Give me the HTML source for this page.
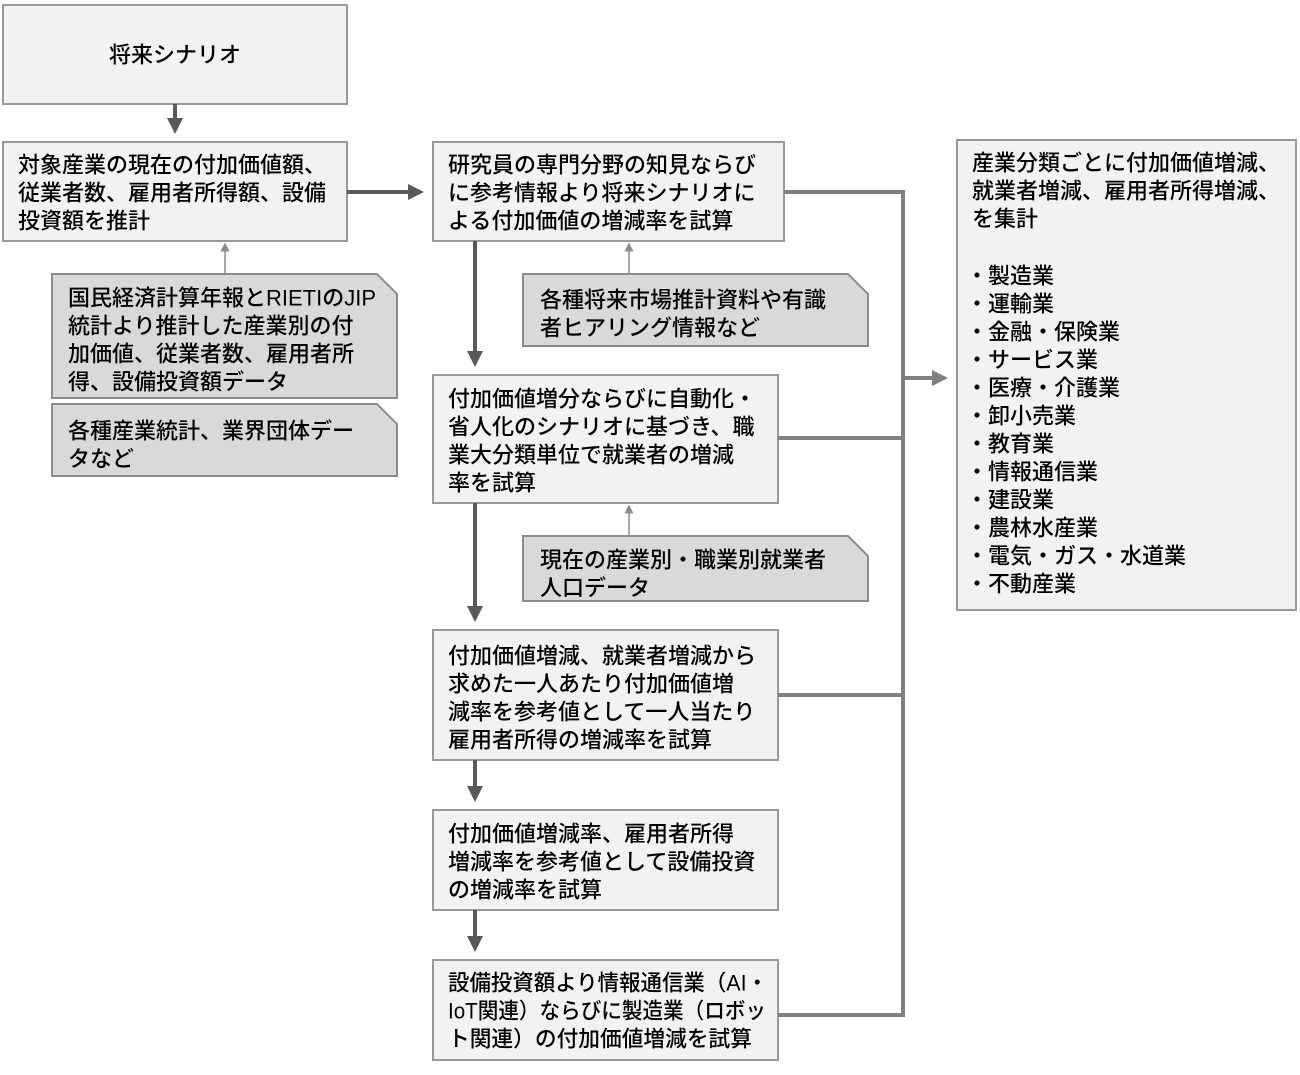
<!DOCTYPE html>
<html><head><meta charset="utf-8"><style>
body{margin:0;background:#fff;width:1300px;height:1070px;overflow:hidden}
text{font-family:"Liberation Sans","Noto Sans CJK JP",sans-serif;font-size:22px;font-weight:500;fill:#000;dominant-baseline:central}
</style></head><body>
<svg width="1300" height="1070" viewBox="0 0 1300 1070" xmlns="http://www.w3.org/2000/svg">
<defs>
<marker id="ad" markerWidth="4" markerHeight="4" refX="3" refY="2" orient="auto" markerUnits="strokeWidth"><path d="M0,0 L4,2 L0,4z" fill="#595959"/></marker>
<marker id="ag" markerWidth="6" markerHeight="6" refX="5" refY="3" orient="auto" markerUnits="strokeWidth"><path d="M0,0 L6,3 L0,6z" fill="#8c8c8c"/></marker>
<marker id="am" markerWidth="4" markerHeight="4" refX="3" refY="2" orient="auto" markerUnits="strokeWidth"><path d="M0,0 L4,2 L0,4z" fill="#808080"/></marker>
</defs>
<g fill="#f2f2f2" stroke="#999" stroke-width="2">
<rect x="3" y="5" width="344" height="99"/>
<rect x="3" y="142" width="344" height="99"/>
<rect x="433" y="142" width="351" height="99"/>
<rect x="957" y="140" width="339" height="470"/>
<rect x="433" y="375" width="345" height="128"/>
<rect x="433" y="630" width="345" height="130"/>
<rect x="433" y="810" width="345" height="100"/>
<rect x="433" y="960" width="345" height="100"/>
</g>
<g fill="#d9d9d9" stroke="#8c8c8c" stroke-width="2">
<path d="M52,274 H377 L397,294 V398 H52Z"/>
<path d="M52,404 H377 L397,424 V476 H52Z"/>
<path d="M523,274 H848 L868,294 V346 H523Z"/>
<path d="M523,536 H848 L868,556 V601 H523Z"/>
</g>
<g stroke="#595959" stroke-width="4" fill="none">
<line x1="175" y1="104" x2="175" y2="130" marker-end="url(#ad)"/>
<line x1="347" y1="192" x2="420" y2="192" marker-end="url(#ad)"/>
<line x1="475" y1="241" x2="475" y2="363" marker-end="url(#ad)"/>
<line x1="475" y1="503" x2="475" y2="618" marker-end="url(#ad)"/>
<line x1="475" y1="760" x2="475" y2="798" marker-end="url(#ad)"/>
<line x1="475" y1="910" x2="475" y2="948" marker-end="url(#ad)"/>
</g>
<g stroke="#808080" stroke-width="4" fill="none">
<polyline points="784,192 903,192 903,1015 778,1015"/>
<line x1="778" y1="438" x2="903" y2="438"/>
<line x1="778" y1="695" x2="903" y2="695"/>
<line x1="903" y1="378" x2="944" y2="378" marker-end="url(#am)"/>
</g>
<g stroke="#8c8c8c" stroke-width="1.5">
<line x1="225" y1="274" x2="225" y2="244" marker-end="url(#ag)"/>
<line x1="629" y1="274" x2="629" y2="244" marker-end="url(#ag)"/>
<line x1="629" y1="536" x2="629" y2="506" marker-end="url(#ag)"/>
</g>
<text x="175" y="55" text-anchor="middle">将来シナリオ</text>
<text x="18" y="165">対象産業の現在の付加価値額、</text>
<text x="18" y="193">従業者数、雇用者所得額、設備</text>
<text x="18" y="221">投資額を推計</text>
<text x="448" y="165">研究員の専門分野の知見ならび</text>
<text x="448" y="193">に参考情報より将来シナリオに</text>
<text x="448" y="221">よる付加価値の増減率を試算</text>
<text x="68" y="298">国民経済計算年報とRIETIのJIP</text>
<text x="68" y="326">統計より推計した産業別の付</text>
<text x="68" y="354">加価値、従業者数、雇用者所</text>
<text x="68" y="382">得、設備投資額データ</text>
<text x="68" y="431">各種産業統計、業界団体デー</text>
<text x="68" y="459">タなど</text>
<text x="540" y="300">各種将来市場推計資料や有識</text>
<text x="540" y="328">者ヒアリング情報など</text>
<text x="448" y="399">付加価値増分ならびに自動化・</text>
<text x="448" y="427">省人化のシナリオに基づき、職</text>
<text x="448" y="455">業大分類単位で就業者の増減</text>
<text x="448" y="483">率を試算</text>
<text x="540" y="560">現在の産業別・職業別就業者</text>
<text x="540" y="588">人口データ</text>
<text x="448" y="656">付加価値増減、就業者増減から</text>
<text x="448" y="684">求めた一人あたり付加価値増</text>
<text x="448" y="712">減率を参考値として一人当たり</text>
<text x="448" y="740">雇用者所得の増減率を試算</text>
<text x="448" y="834">付加価値増減率、雇用者所得</text>
<text x="448" y="862">増減率を参考値として設備投資</text>
<text x="448" y="890">の増減率を試算</text>
<text x="448" y="983" textLength="320" lengthAdjust="spacingAndGlyphs">設備投資額より情報通信業（AI・</text>
<text x="448" y="1011" textLength="318" lengthAdjust="spacingAndGlyphs">IoT関連）ならびに製造業（ロボッ</text>
<text x="448" y="1039" textLength="304" lengthAdjust="spacingAndGlyphs">ト関連）の付加価値増減を試算</text>
<text x="972" y="163">産業分類ごとに付加価値増減、</text>
<text x="972" y="191">就業者増減、雇用者所得増減、</text>
<text x="972" y="219">を集計</text>
<text x="966" y="276">・製造業</text>
<text x="966" y="304">・運輸業</text>
<text x="966" y="332">・金融・保険業</text>
<text x="966" y="360">・サービス業</text>
<text x="966" y="388">・医療・介護業</text>
<text x="966" y="416">・卸小売業</text>
<text x="966" y="444">・教育業</text>
<text x="966" y="472">・情報通信業</text>
<text x="966" y="500">・建設業</text>
<text x="966" y="528">・農林水産業</text>
<text x="966" y="556">・電気・ガス・水道業</text>
<text x="966" y="584">・不動産業</text>
</svg>
</body></html>
